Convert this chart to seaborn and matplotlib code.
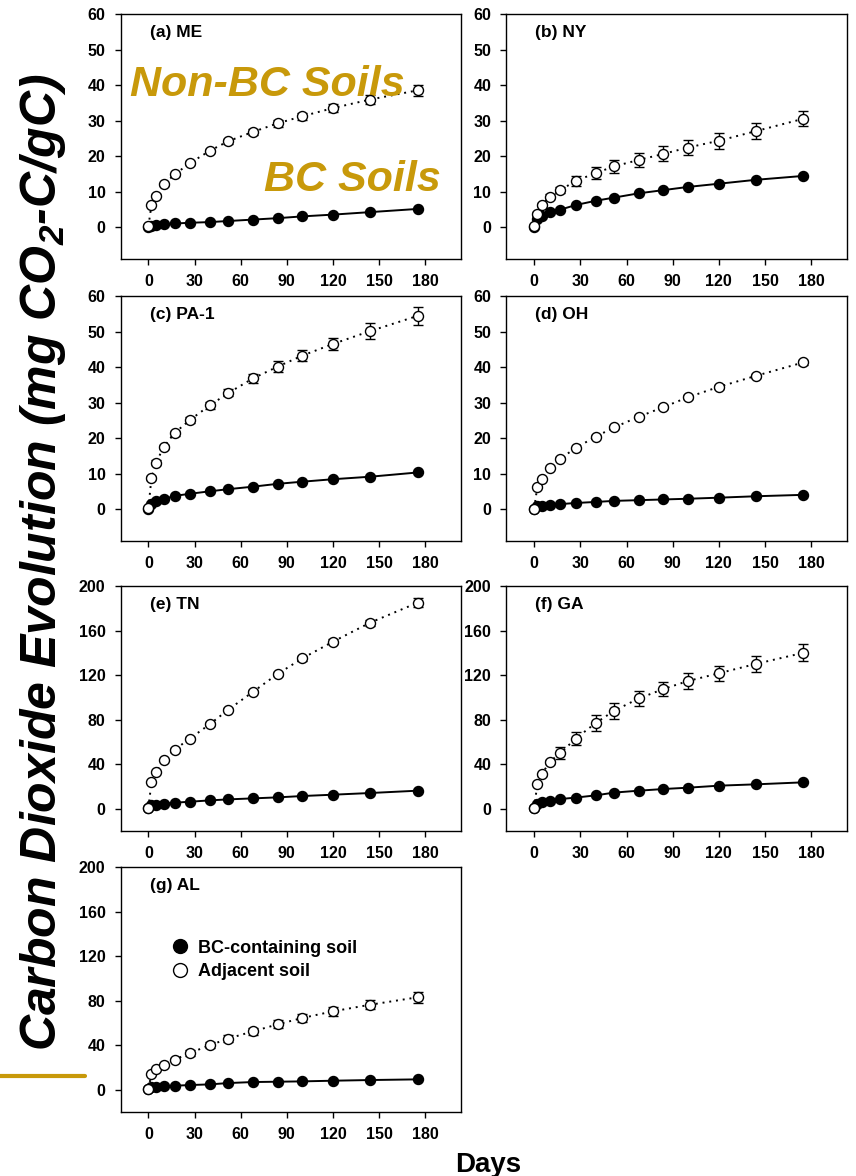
import numpy as np
import pandas as pd
import matplotlib
matplotlib.use("Agg")
import matplotlib.pyplot as plt
from matplotlib.lines import Line2D
import seaborn as sns

sns.set_style("ticks")
plt.rcParams['font.family'] = ['Liberation Sans', 'DejaVu Sans']
plt.rcParams['font.weight'] = 'bold'
plt.rcParams['text.color'] = 'black'
plt.rcParams['axes.labelcolor'] = 'black'
plt.rcParams['xtick.color'] = 'black'
plt.rcParams['ytick.color'] = 'black'
plt.rcParams['mathtext.fontset'] = 'custom'
plt.rcParams['mathtext.rm'] = 'Liberation Sans:bold:italic'
plt.rcParams['mathtext.it'] = 'Liberation Sans:bold:italic'
plt.rcParams['mathtext.default'] = 'rm'

# incubation days
days = [0, 2, 5, 10, 17, 27, 40, 52, 68, 84, 100, 120, 144, 175]

# cumulative CO2-C (mg CO2-C / g C), BC-containing soil vs adjacent soil
me_bc = [0.1, 0.4, 0.6, 0.8, 1.0, 1.2, 1.4, 1.7, 2.1, 2.5, 3.0, 3.5, 4.2, 5.1]
me_adj = [0.2, 6.2, 8.8, 12.0, 14.8, 18.0, 21.5, 24.2, 26.8, 29.2, 31.2, 33.5, 35.9, 38.5]
me_err = [0.3, 0.4, 0.4, 0.5, 0.5, 0.6, 0.6, 0.7, 0.8, 0.9, 1.0, 1.1, 1.3, 1.5]

ny_bc = [0.0, 2.2, 3.1, 4.1, 4.9, 6.2, 7.4, 8.3, 9.5, 10.4, 11.3, 12.2, 13.3, 14.4]
ny_adj = [0.2, 3.6, 6.2, 8.5, 10.4, 13.0, 15.2, 17.1, 18.9, 20.6, 22.4, 24.3, 27.0, 30.5]
ny_err = [0.3, 0.5, 0.6, 0.7, 0.9, 1.5, 1.7, 1.8, 2.0, 2.1, 2.2, 2.3, 2.3, 2.1]

pa_bc = [0.1, 1.5, 2.2, 2.8, 3.7, 4.3, 5.0, 5.6, 6.3, 7.1, 7.7, 8.4, 9.1, 10.3]
pa_adj = [0.2, 8.8, 13.1, 17.5, 21.4, 25.1, 29.2, 32.7, 36.8, 40.1, 43.2, 46.5, 50.1, 54.4]
pa_err = [0.3, 0.5, 0.6, 0.6, 0.7, 0.8, 1.0, 1.0, 1.2, 1.5, 1.6, 1.8, 2.2, 2.5]

oh_bc = [0.1, 0.8, 0.9, 1.2, 1.4, 1.7, 2.0, 2.3, 2.5, 2.7, 2.9, 3.2, 3.6, 4.0]
oh_adj = [0.1, 6.2, 8.5, 11.6, 14.2, 17.2, 20.4, 23.0, 26.0, 28.7, 31.5, 34.4, 37.5, 41.3]
oh_err = [0.2, 0.3, 0.3, 0.3, 0.4, 0.4, 0.4, 0.5, 0.5, 0.6, 0.6, 0.6, 0.6, 0.6]

tn_bc = [0.3, 3.0, 3.6, 4.5, 5.4, 6.3, 7.5, 8.4, 9.3, 10.2, 11.4, 12.6, 14.1, 16.2]
tn_adj = [0.5, 24, 33, 44, 53, 63, 76, 89, 105, 121, 135, 150, 167, 185]
tn_err = [0.5, 1.0, 1.0, 1.0, 1.2, 1.2, 1.5, 1.5, 1.5, 1.8, 2.0, 2.0, 2.5, 4.0]

ga_bc = [0.3, 4.0, 5.7, 7.2, 8.7, 10.0, 12.0, 14.5, 16.2, 17.7, 18.9, 20.7, 21.9, 23.7]
ga_adj = [0.5, 22, 31, 42, 50, 63, 77, 88, 99, 107.5, 114.7, 121.6, 130, 140]
ga_err = [0.5, 1.0, 1.5, 2.0, 5.0, 6.0, 7.0, 7.0, 7.0, 6.5, 7.0, 7.0, 7.5, 7.5]

al_bc = [0.5, 2.4, 2.7, 3.3, 3.6, 4.2, 4.8, 6.0, 6.9, 7.2, 7.5, 8.1, 8.7, 9.3]
al_adj = [1.0, 14.0, 18.3, 22.5, 27.0, 33.0, 40.0, 46.0, 52.4, 58.7, 64.4, 70.4, 76.3, 83.0]
al_err = [0.5, 1.0, 1.0, 1.0, 1.5, 2.5, 2.5, 3.0, 3.0, 3.5, 3.5, 4.0, 4.0, 5.0]

panels = [
    ("(a) ME", me_bc, me_adj, me_err, 60),
    ("(b) NY", ny_bc, ny_adj, ny_err, 60),
    ("(c) PA-1", pa_bc, pa_adj, pa_err, 60),
    ("(d) OH", oh_bc, oh_adj, oh_err, 60),
    ("(e) TN", tn_bc, tn_adj, tn_err, 200),
    ("(f) GA", ga_bc, ga_adj, ga_err, 200),
    ("(g) AL", al_bc, al_adj, al_err, 200),
]

W, H = 856, 1176
fig = plt.figure(figsize=(W / 100, H / 100), dpi=100)

col_left = [120.7, 506.5]
row_top = [14, 296, 586, 867]
ax_w, ax_h = 340, 245

gold = "#C8990A"
axes = []
for i, (title, bc, adj, err, ymax) in enumerate(panels):
    r, c = divmod(i, 2)
    x0 = col_left[c]
    y0 = row_top[r]
    ax = fig.add_axes([x0 / W, 1 - (y0 + ax_h) / H, ax_w / W, ax_h / H])
    axes.append(ax)

    df = pd.DataFrame({"day": days, "bc": bc, "adj": adj, "err": err})

    sns.lineplot(data=df, x="day", y="bc", ax=ax, color="black", lw=1.4,
                 linestyle="-", zorder=2)
    sns.lineplot(data=df, x="day", y="adj", ax=ax, color="black", lw=1.4,
                 linestyle=(0, (1, 2.5)), zorder=2)
    ax.errorbar(df["day"], df["adj"], yerr=df["err"], fmt="none", ecolor="black",
                elinewidth=1, capsize=3.5, capthick=1, zorder=2.5)
    sns.scatterplot(data=df, x="day", y="bc", ax=ax, color="black", edgecolor="black",
                    s=52, linewidth=1, zorder=3)
    sns.scatterplot(data=df, x="day", y="adj", ax=ax, color="white", edgecolor="black",
                    s=52, linewidth=1, zorder=4)

    if ymax == 60:
        ax.set_ylim(-9, 60)
        ax.set_yticks(np.arange(0, 61, 10))
    else:
        ax.set_ylim(-20, 200)
        ax.set_yticks(np.arange(0, 201, 40))
    ax.set_xlim(-18, 203)
    ax.set_xticks(np.arange(0, 181, 30))
    ax.set_xlabel("")
    ax.set_ylabel("")
    ax.tick_params(axis="both", direction="out", length=4, width=1, labelsize=11.5,
                   pad=7, color="black", labelcolor="black")
    for lab in ax.get_xticklabels() + ax.get_yticklabels():
        lab.set_fontweight("bold")
    for sp in ax.spines.values():
        sp.set_visible(True)
        sp.set_linewidth(1)
        sp.set_color("black")

    ax.text(0.085, 0.955, title, transform=ax.transAxes, ha="left", va="top",
            fontsize=12.5, fontweight="bold")

# annotations on panel (a)
axes[0].text(0.027, 0.665, "Non-BC Soils", transform=axes[0].transAxes, ha="left",
             va="baseline", fontsize=31, fontweight="bold", fontstyle="italic", color=gold)
axes[0].text(0.94, 0.279, "BC Soils", transform=axes[0].transAxes, ha="right",
             va="baseline", fontsize=31, fontweight="bold", fontstyle="italic", color=gold)

# legend on panel (g)
handles = [
    Line2D([], [], marker="o", ls="none", markersize=10, markerfacecolor="black",
           markeredgecolor="black"),
    Line2D([], [], marker="o", ls="none", markersize=10, markerfacecolor="white",
           markeredgecolor="black"),
]
axes[6].legend(handles, ["BC-containing soil", "Adjacent soil"], loc="upper left",
               bbox_to_anchor=(0.1, 0.77), frameon=False, handlelength=1.0,
               handletextpad=0.5, labelspacing=0.35, prop={"weight": "bold", "size": 13})

fig.text(43 / W, 1 - 562 / H, "Carbon Dioxide Evolution (mg CO$_2$-C/gC)",
         rotation=90, ha="center", va="center", fontsize=36, fontweight="bold",
         fontstyle="italic")
fig.text(488 / W, 1 - 1172 / H, "Days", ha="center", va="baseline", fontsize=20,
         fontweight="bold")

fig.add_artist(Line2D([0, 85 / W], [1 - 1076 / H] * 2, color=gold, lw=3,
                      transform=fig.transFigure))

fig.savefig("out.png", dpi=100)
